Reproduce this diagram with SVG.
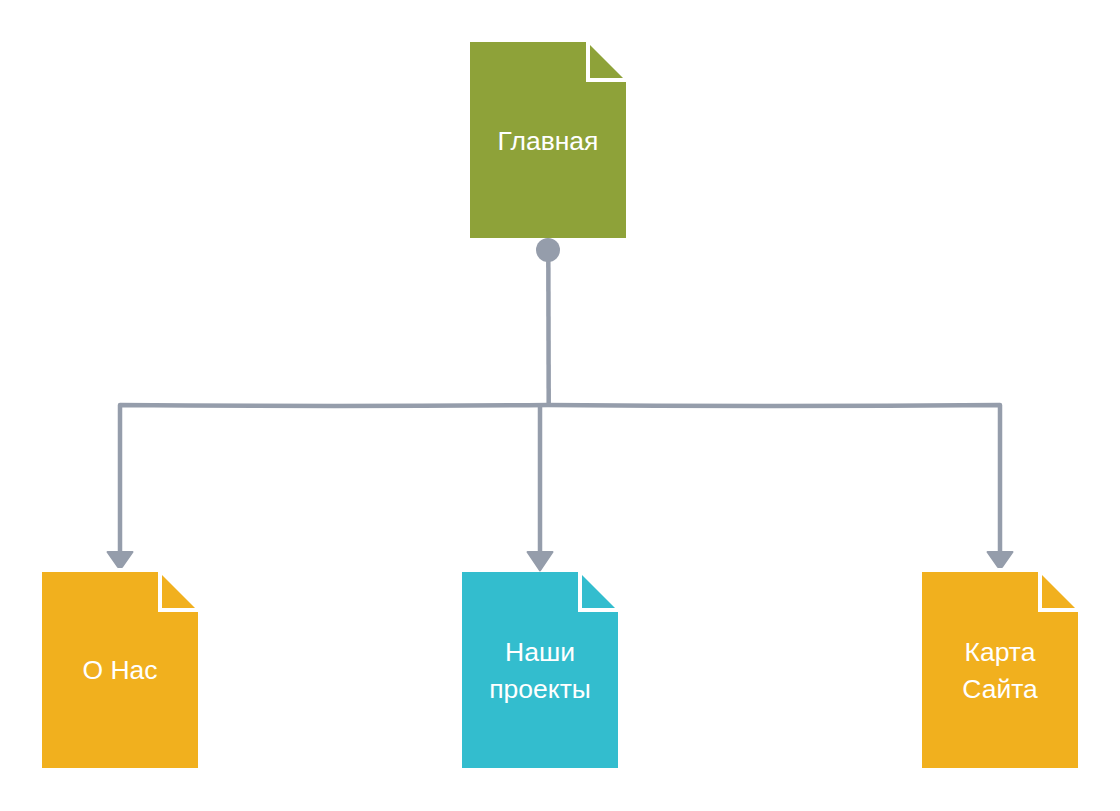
<svg xmlns="http://www.w3.org/2000/svg" width="1120" height="811" viewBox="0 0 1120 811">
<style>
.green{fill:#8ea239}
.orange{fill:#f1b01e}
.cyan{fill:#33bdce}
.lbl{font-family:"Liberation Sans",Arial,sans-serif;font-size:26.500px;fill:#ffffff;text-anchor:middle}
.line{fill:none;stroke:#959dab;stroke-width:4.5;stroke-linejoin:round}
.head{fill:#959dab}
.tip{fill:#959dab;stroke:#959dab;stroke-width:2;stroke-linejoin:round}
</style>
<defs>
<path id="page" d="M0 0H116V40H156V196H0Z"/>
<path id="fold" d="M120 3L153 36H120Z"/>
</defs>
<rect width="1120" height="811" fill="#ffffff"/>
<g id="connectors">
<path class="line" d="M548.300 250L548.700 405"/>
<path class="line" d="M120 560V405Q335 407 548 405Q775 407 1000 405V560"/>
<path class="line" d="M540 405V560"/>
<circle class="head" cx="548" cy="250" r="12"/>
<path class="tip" d="M107.500 552H132.500L122 567H118Z"/>
<path class="tip" d="M527.500 552H552.500L540 570.500Z"/>
<path class="tip" d="M987.500 552H1012.500L1002 567H998Z"/>
</g>
<g id="node-home" class="green" transform="translate(470 42)">
<use href="#page"/><use href="#fold"/>
<text class="lbl" x="78" y="108">Главная</text>
</g>
<g id="node-about" class="orange" transform="translate(42 572)">
<use href="#page"/><use href="#fold"/>
<text class="lbl" x="78" y="107">О Нас</text>
</g>
<g id="node-projects" class="cyan" transform="translate(462 572)">
<use href="#page"/><use href="#fold"/>
<text class="lbl" x="78" y="89">Наши</text>
<text class="lbl" x="78" y="126">проекты</text>
</g>
<g id="node-sitemap" class="orange" transform="translate(922 572)">
<use href="#page"/><use href="#fold"/>
<text class="lbl" x="78" y="89">Карта</text>
<text class="lbl" x="78" y="126">Сайта</text>
</g>
</svg>
